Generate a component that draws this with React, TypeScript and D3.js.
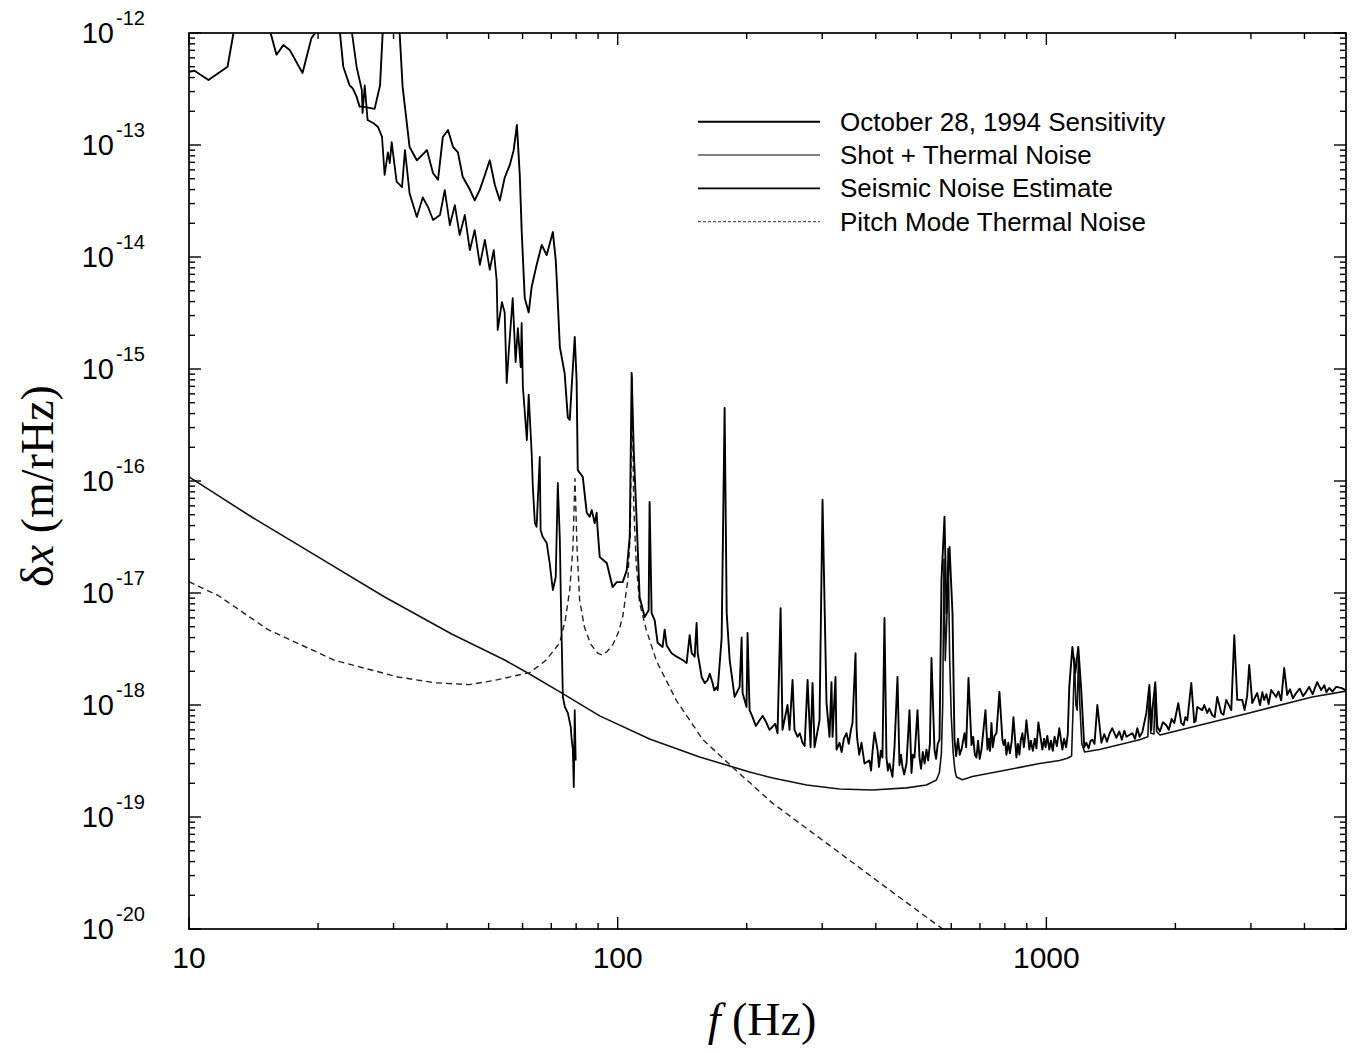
import React from "react";
import * as d3 from "d3";

const W = 1353;
const H = 1053;
const M = { left: 189, right: 1346, top: 33, bottom: 929 };

const xDomain: [number, number] = [10, 5000];
const yDomain: [number, number] = [1e-20, 1e-12];
const xTickLabels = [10, 100, 1000];
const yTickExponents = [-12, -13, -14, -15, -16, -17, -18, -19, -20];

const legendLabels = [
  "October 28, 1994 Sensitivity",
  "Shot + Thermal Noise",
  "Seismic Noise Estimate",
  "Pitch Mode Thermal Noise",
];

// [frequency Hz, displacement m/rHz]
const sensitivity: [number, number][] = [
  [10.0, 4.5e-13], [10.3, 4.6e-13], [11.1, 3.8e-13], [12.3, 5.0e-13], [12.7, 1.0e-12], [13.5, 2.5e-12],
  [14.8, 2.5e-12], [15.5, 1.0e-12], [16.0, 6.4e-13], [16.6, 7.8e-13], [17.2, 7.0e-13], [18.4, 4.4e-13],
  [19.3, 9.0e-13], [19.7, 1.0e-12], [21.0, 2.5e-12], [22.5, 1.0e-12], [22.9, 5.0e-13], [23.7, 3.4e-13],
  [24.1, 3.2e-13], [24.6, 2.7e-13], [25.0, 2.2e-13], [25.4, 2.2e-13], [27.1, 2.1e-13], [27.9, 3.4e-13],
  [28.3, 1.0e-12], [29.5, 3.0e-12], [31.0, 1.0e-12], [31.5, 3.3e-13], [32.7, 9.6e-14], [34.0, 7.3e-14],
  [35.9, 9.0e-14], [37.1, 5.6e-14], [38.1, 4.9e-14], [39.1, 1.18e-13], [40.2, 1.36e-13], [41.3, 9.6e-14],
  [42.4, 8.6e-14], [43.5, 5.2e-14], [45.2, 4.0e-14], [46.4, 3.2e-14], [47.7, 4.0e-14], [49.0, 5.4e-14],
  [50.3, 7.3e-14], [51.7, 4.4e-14], [53.1, 3.2e-14], [54.5, 5.1e-14], [56.0, 6.6e-14], [57.2, 9.0e-14],
  [58.2, 1.51e-13], [59.1, 5.4e-14], [59.7, 1.74e-14], [60.7, 4.3e-15], [62.0, 3.2e-15], [63.0, 5.4e-15],
  [64.7, 8.5e-15], [66.5, 1.28e-14], [68.3, 1.04e-14], [70.6, 1.67e-14], [71.7, 9.4e-15], [72.1, 6.2e-15],
  [73.3, 1.57e-15], [75.2, 9.2e-16], [76.5, 3.7e-16], [77.3, 3.5e-16], [78.1, 6.9e-16], [79.4, 1.93e-15],
  [80.2, 8.0e-16], [80.7, 1.25e-16], [82.9, 1.09e-16], [84.7, 5.2e-17], [86.0, 4.8e-17], [87.0, 5.5e-17],
  [88.4, 4.2e-17], [89.3, 5.2e-17], [89.8, 3.65e-17], [90.8, 2.1e-17], [94.3, 1.85e-17], [97.3, 1.13e-17],
  [99.5, 1.25e-17], [102.7, 1.25e-17], [105.0, 1.6e-17], [106.7, 3.2e-17], [107.8, 9.2e-16], [109.0, 1.89e-16],
  [110.7, 4.5e-17], [112.5, 9.2e-18], [115.6, 6.1e-18], [118.1, 7.0e-18], [118.7, 6.5e-17], [120.0, 6.6e-18],
  [122.0, 5.7e-18], [123.9, 3.6e-18], [127.3, 3.3e-18], [128.7, 4.7e-18], [130.1, 3.4e-18], [133.6, 2.9e-18],
  [137.3, 2.7e-18], [141.7, 2.52e-18], [144.8, 2.37e-18], [147.2, 4.2e-18], [148.8, 2.9e-18], [151.2, 2.7e-18],
  [152.8, 5.4e-18], [153.7, 2.9e-18], [157.0, 1.78e-18], [159.6, 1.57e-18], [162.1, 1.67e-18], [164.0, 1.9e-18],
  [166.5, 1.57e-18], [168.0, 1.35e-18], [170.2, 1.45e-18], [171.1, 1.36e-18], [174.8, 4.0e-18], [177.6, 4.5e-16],
  [179.6, 6.6e-18], [182.5, 2.52e-18], [187.4, 1.18e-18], [192.5, 1.45e-18], [194.6, 4.0e-18], [195.6, 1.28e-18],
  [199.8, 9.6e-19], [200.9, 4.4e-18], [203.1, 9.0e-19], [206.4, 7.8e-19], [210.0, 6.5e-19], [214.3, 7.3e-19],
  [218.0, 8.0e-19], [222.5, 6.9e-19], [226.0, 6.0e-19], [229.8, 6.4e-19], [233.0, 6.8e-19], [236.0, 5.6e-19],
  [239.9, 7.3e-18], [242.4, 6.0e-19], [249.0, 1.0e-18], [251.7, 6.0e-19], [255.8, 1.67e-18], [258.5, 6.0e-19],
  [262.8, 5.2e-19], [266.0, 5.6e-19], [269.9, 4.6e-19], [273.0, 4.3e-19], [277.3, 1.67e-18], [281.8, 4.2e-19],
  [284.8, 1.57e-18], [287.9, 4.2e-19], [295.7, 7.3e-19], [300.5, 6.8e-17], [307.0, 1.04e-18], [312.0, 5.2e-19],
  [315.3, 1.6e-18], [317.1, 5.2e-19], [322.2, 1.78e-18], [324.0, 4.0e-19], [329.2, 4.6e-19], [333.0, 3.8e-19],
  [337.0, 5.0e-19], [341.8, 5.6e-19], [346.0, 4.5e-19], [350.0, 6.0e-19], [353.0, 6.9e-19], [358.8, 2.9e-18],
  [360.7, 6.4e-19], [362.0, 5.0e-19], [366.0, 3.6e-19], [370.5, 4.6e-19], [376.5, 3.0e-19], [386.7, 3.2e-19],
  [390.0, 2.6e-19], [393.0, 3.8e-19], [397.2, 5.7e-19], [403.7, 4.0e-19], [407.0, 2.8e-19], [411.0, 3.9e-19],
  [414.6, 3.4e-19], [419.1, 6.0e-18], [423.6, 3.4e-19], [427.0, 2.6e-19], [430.5, 3.0e-19], [437.5, 2.28e-19],
  [442.3, 4.2e-19], [449.5, 1.78e-18], [454.3, 2.9e-19], [458.0, 3.6e-19], [461.7, 2.8e-19], [466.0, 2.4e-19],
  [471.8, 3.0e-19], [479.4, 9.0e-19], [484.6, 2.47e-19], [488.0, 3.6e-19], [492.5, 3.4e-19], [500.5, 9.0e-19],
  [505.8, 3.4e-19], [510.0, 2.7e-19], [515.0, 3.8e-19], [520.0, 3.0e-19], [525.2, 4.0e-19], [530.0, 3.2e-19],
  [535.0, 4.5e-19], [539.5, 2.63e-18], [548.3, 4.0e-19], [553.0, 3.3e-19], [558.0, 4.5e-19], [563.3, 4.9e-19],
  [569.3, 1.31e-17], [578.6, 4.8e-17], [584.9, 6.6e-18], [594.4, 2.58e-17], [604.0, 6.6e-18], [610.5, 4.9e-19],
  [616.0, 3.5e-19], [622.0, 5.0e-19], [628.0, 3.6e-19], [633.9, 4.0e-19], [644.2, 5.6e-19], [650.0, 4.2e-19],
  [658.2, 1.74e-18], [668.9, 4.4e-19], [675.0, 5.2e-19], [681.0, 3.6e-19], [687.0, 3.4e-19], [693.0, 4.8e-19],
  [699.0, 3.3e-19], [705.7, 4.0e-19], [721.0, 9.0e-19], [728.8, 4.0e-19], [734.0, 5.0e-19], [739.0, 3.9e-19],
  [744.6, 6.9e-19], [750.0, 4.2e-19], [757.0, 5.3e-19], [764.8, 5.6e-19], [777.2, 1.31e-18], [789.8, 4.9e-19],
  [795.0, 4.4e-19], [801.0, 4.9e-19], [807.0, 3.6e-19], [815.0, 4.6e-19], [822.0, 3.7e-19], [830.0, 4.7e-19],
  [837.8, 7.8e-19], [851.4, 3.4e-19], [858.0, 4.5e-19], [865.0, 3.6e-19], [872.0, 4.9e-19], [879.3, 5.6e-19],
  [886.0, 4.2e-19], [892.0, 5.2e-19], [898.3, 7.3e-19], [912.9, 4.0e-19], [920.0, 4.8e-19], [930.0, 3.9e-19],
  [940.0, 5.0e-19], [948.0, 4.1e-19], [958.1, 7.0e-19], [978.8, 4.0e-19], [988.0, 5.0e-19], [996.0, 4.2e-19],
  [1005, 5.3e-19], [1016, 4.0e-19], [1025, 4.8e-19], [1035, 3.9e-19], [1045, 5.2e-19], [1058, 4.3e-19],
  [1072, 6.2e-19], [1090, 4.0e-19], [1100, 5.0e-19], [1112, 4.2e-19], [1122, 5.5e-19], [1131, 1.45e-18],
  [1150, 3.3e-18], [1168, 1.93e-18], [1187, 3.3e-18], [1206, 1.36e-18], [1226, 4.2e-19], [1240, 4.6e-19],
  [1255, 4.1e-19], [1268, 4.8e-19], [1280, 4.9e-19], [1295, 4.5e-19], [1315, 1.0e-18], [1344, 4.6e-19],
  [1365, 5.5e-19], [1385, 4.7e-19], [1405, 5.6e-19], [1425, 6.2e-19], [1456, 5.1e-19], [1480, 5.8e-19],
  [1500, 4.9e-19], [1520, 5.9e-19], [1537, 5.2e-19], [1587, 5.6e-19], [1610, 5.0e-19], [1630, 6.2e-19],
  [1650, 5.2e-19], [1674, 5.7e-19], [1711, 8.5e-19], [1739, 1.51e-18], [1757, 6.0e-19], [1767, 9.0e-19],
  [1795, 1.6e-18], [1815, 6.4e-19], [1840, 5.8e-19], [1870, 7.0e-19], [1905, 6.6e-19], [1930, 6.0e-19],
  [1960, 7.5e-19], [1988, 6.9e-19], [2031, 1.04e-18], [2064, 6.9e-19], [2090, 6.6e-19], [2110, 7.8e-19],
  [2132, 7.3e-19], [2178, 1.57e-18], [2213, 7.0e-19], [2230, 7.2e-19], [2249, 9.6e-19], [2310, 9.0e-19],
  [2335, 1.0e-18], [2373, 8.5e-19], [2400, 9.3e-19], [2438, 8.1e-19], [2470, 7.8e-19], [2504, 1.18e-18],
  [2558, 8.5e-19], [2590, 8.2e-19], [2628, 1.11e-18], [2700, 9.0e-19], [2744, 4.2e-18], [2788, 1.11e-18],
  [2864, 1.11e-18], [2900, 9.0e-19], [2940, 1.2e-18], [2973, 2.28e-18], [3022, 1.04e-18], [3103, 1.28e-18],
  [3150, 1.0e-18], [3190, 1.3e-18], [3222, 1.11e-18], [3260, 1.25e-18], [3300, 1.02e-18], [3345, 1.36e-18],
  [3436, 1.18e-18], [3480, 1.32e-18], [3530, 1.1e-18], [3588, 2.14e-18], [3646, 1.23e-18], [3700, 1.38e-18],
  [3760, 1.15e-18], [3826, 1.28e-18], [3900, 1.4e-18], [3970, 1.2e-18], [4037, 1.31e-18], [4100, 1.45e-18],
  [4180, 1.25e-18], [4282, 1.6e-18], [4375, 1.36e-18], [4450, 1.5e-18], [4500, 1.3e-18], [4567, 1.42e-18],
  [4650, 1.32e-18], [4742, 1.45e-18], [4871, 1.42e-18], [4990, 1.36e-18],
];

const shotThermal: [number, number][] = [
  [10, 1.09e-16], [14.0, 4.77e-17], [20.0, 2.1e-17], [28.6, 9.2e-18], [41.0, 4.3e-18], [54.5, 2.52e-18],
  [61.7, 1.93e-18], [73.3, 1.31e-18], [90.8, 8.0e-19], [118.7, 4.97e-19], [155.3, 3.44e-19], [203, 2.52e-19],
  [230, 2.23e-19], [276, 1.93e-19], [329, 1.78e-19], [393, 1.74e-19], [472, 1.82e-19], [525, 1.93e-19],
  [554, 2.14e-19], [563, 2.5e-19], [569, 3.7e-19], [573, 1.0e-18], [577, 2.0e-17], [581, 2.5e-18],
  [586, 6.0e-18], [590, 2.5e-17], [595, 2.5e-18], [600, 8.0e-19], [606, 3.8e-19], [612, 2.6e-19],
  [617, 2.28e-19], [637, 2.15e-19], [672, 2.3e-19], [807, 2.63e-19], [964, 3.0e-19], [1073, 3.2e-19],
  [1120, 3.35e-19], [1145, 3.5e-19], [1155, 1.0e-18], [1163, 2.6e-18], [1172, 1.0e-18], [1180, 9.0e-19],
  [1188, 2.6e-18], [1197, 1.0e-18], [1210, 4.5e-19], [1228, 3.8e-19], [1330, 4.0e-19], [1650, 4.9e-19],
  [1725, 5.2e-19], [1739, 1.3e-18], [1752, 5.6e-19], [1782, 5.5e-19], [1795, 1.4e-18], [1808, 5.8e-19],
  [1840, 5.4e-19], [2275, 6.6e-19], [2973, 8.5e-19], [4170, 1.18e-18], [5000, 1.33e-18],
];

const seismic: [number, number][] = [
  [23.5, 2.0e-12], [24.0, 1.0e-12], [24.6, 5.0e-13], [25.3, 3.1e-13], [25.4, 1.93e-13], [25.7, 3.4e-13],
  [26.1, 1.67e-13], [26.9, 1.57e-13], [27.6, 1.45e-13], [28.2, 1.18e-13], [28.6, 5.4e-14], [29.1, 8.6e-14],
  [29.4, 6.9e-14], [29.7, 1.06e-13], [30.5, 4.7e-14], [31.4, 4.2e-14], [31.9, 9.0e-14], [32.7, 3.7e-14],
  [34.0, 2.28e-14], [35.1, 3.4e-14], [36.1, 2.8e-14], [37.1, 2.14e-14], [38.5, 2.37e-14], [39.5, 3.96e-14],
  [40.6, 1.93e-14], [41.7, 2.9e-14], [42.8, 1.57e-14], [44.0, 2.37e-14], [45.2, 1.15e-14], [46.4, 1.74e-14],
  [47.7, 8.5e-15], [49.0, 1.42e-14], [50.3, 7.7e-15], [51.4, 1.15e-14], [52.2, 6.2e-15], [52.5, 2.23e-15],
  [53.7, 3.96e-15], [54.5, 3.2e-15], [55.1, 7.5e-16], [55.7, 1.42e-15], [56.9, 4.3e-15], [57.8, 1.15e-15],
  [58.5, 2.32e-15], [59.4, 1.04e-15], [59.7, 2.58e-15], [60.1, 6.9e-16], [61.4, 2.32e-16], [62.0, 5.9e-16],
  [63.0, 1.78e-16], [63.4, 8.8e-17], [64.1, 4.2e-17], [64.7, 3.9e-17], [65.8, 1.64e-16], [66.1, 3.65e-17],
  [66.8, 3.2e-17], [68.3, 2.8e-17], [69.4, 1.85e-17], [70.6, 1.06e-17], [71.7, 1.39e-17], [72.5, 9.6e-17],
  [73.3, 3.0e-17], [73.7, 8.7e-18], [74.5, 1.18e-18], [75.3, 9.6e-19], [76.5, 8.5e-19], [77.7, 6.4e-19],
  [78.1, 4.9e-19], [78.6, 4.0e-19], [79.0, 1.85e-19], [79.4, 9.0e-19], [79.8, 3.2e-19],
];

const pitchMode: [number, number][] = [
  [10, 1.26e-17], [11.7, 9.5e-18], [15.3, 4.7e-18], [21.9, 2.5e-18], [30.7, 1.78e-18], [37.4, 1.58e-18],
  [45, 1.52e-18], [51.6, 1.66e-18], [62.4, 1.95e-18], [68, 2.5e-18], [73.3, 3.6e-18], [75.5, 5.8e-18],
  [77.3, 1.07e-17], [78.6, 2.5e-17], [79.5, 1.05e-16], [80.4, 2.5e-17], [81.5, 8.7e-18], [83.6, 5.0e-18],
  [86.5, 3.5e-18], [89.8, 2.9e-18], [92, 2.8e-18], [94.5, 3.0e-18], [97.6, 3.5e-18], [100.5, 4.5e-18],
  [102.8, 6.2e-18], [105.6, 1.3e-17], [107, 3.5e-17], [108, 8.5e-16], [109, 6.0e-17], [110.5, 1.8e-17],
  [112.5, 8.1e-18], [116.6, 4.7e-18], [123, 2.5e-18], [137, 1.1e-18], [158, 4.9e-19], [189, 2.6e-19],
  [229.7, 1.33e-19], [329, 4.8e-20], [430, 2.24e-20], [573, 1.0e-20], [620, 8.0e-21],
];

const seriesList = [sensitivity, shotThermal, seismic, pitchMode];
const seriesStyles = [
  { stroke: "#000", width: 1.9, dash: "" },
  { stroke: "#111", width: 1.6, dash: "" },
  { stroke: "#000", width: 1.8, dash: "" },
  { stroke: "#222", width: 1.4, dash: "6 4" },
];
const drawOrder = [1, 3, 2, 0];

export default function App() {
  const x = d3.scaleLog().domain(xDomain).range([M.left, M.right]);
  const y = d3.scaleLog().domain(yDomain).range([M.bottom, M.top]);
  const line = d3
    .line<[number, number]>()
    .x((d) => x(d[0]))
    .y((d) => y(d[1]));

  const isMajor = (v: number) => Math.abs(Math.log10(v) - Math.round(Math.log10(v))) < 1e-6;
  const xTicks = x.ticks();
  const yTicks = y.ticks();
  const majorLen = 12;
  const minorLen = 6;

  const sans = "'Liberation Sans', Arial, Helvetica, sans-serif";
  const serif = "'Liberation Serif', 'Times New Roman', serif";

  return (
    <svg
      width={W}
      height={H}
      style={{ position: "absolute", left: 0, top: 0, display: "block", background: "#fff" }}
    >
      <defs>
        <clipPath id="plotClip">
          <rect x={M.left} y={M.top} width={M.right - M.left} height={M.bottom - M.top} />
        </clipPath>
      </defs>
      <rect x={0} y={0} width={W} height={H} fill="#fff" />

      <g clipPath="url(#plotClip)">
        {drawOrder.map((i) => (
          <path
            key={i}
            d={line(seriesList[i]) || ""}
            fill="none"
            stroke={seriesStyles[i].stroke}
            strokeWidth={seriesStyles[i].width}
            strokeDasharray={seriesStyles[i].dash || undefined}
            strokeLinejoin="round"
          />
        ))}
      </g>

      <rect
        x={M.left}
        y={M.top}
        width={M.right - M.left}
        height={M.bottom - M.top}
        fill="none"
        stroke="#000"
        strokeWidth={1.7}
      />

      {xTicks.map((t, i) => {
        const len = isMajor(t) ? majorLen : minorLen;
        const xp = x(t);
        return (
          <g key={"xt" + i} stroke="#000" strokeWidth={1.4}>
            <line x1={xp} x2={xp} y1={M.bottom} y2={M.bottom - len} />
            <line x1={xp} x2={xp} y1={M.top} y2={M.top + len} />
          </g>
        );
      })}
      {yTicks.map((t, i) => {
        const len = isMajor(t) ? majorLen : minorLen;
        const yp = y(t);
        return (
          <g key={"yt" + i} stroke="#000" strokeWidth={1.4}>
            <line x1={M.left} x2={M.left + len} y1={yp} y2={yp} />
            <line x1={M.right} x2={M.right - len} y1={yp} y2={yp} />
          </g>
        );
      })}

      {xTickLabels.map((v) => (
        <text
          key={"xl" + v}
          x={x(v)}
          y={968}
          textAnchor="middle"
          fontFamily={sans}
          fontSize={30}
          fill="#000"
        >
          {String(v)}
        </text>
      ))}

      {yTickExponents.map((e) => {
        const yp = y(Math.pow(10, e));
        return (
          <g key={"yl" + e} fontFamily={sans} fill="#000">
            <text x={114} y={yp + 10} textAnchor="end" fontSize={29}>
              10
            </text>
            <text x={116} y={yp - 8} textAnchor="start" fontSize={20}>
              {String(e)}
            </text>
          </g>
        );
      })}

      <text x={762} y={1035} textAnchor="middle" fontFamily={serif} fontSize={46} fill="#000">
        <tspan fontStyle="italic">f</tspan>
        <tspan> (Hz)</tspan>
      </text>
      <text
        transform="translate(53,486) rotate(-90)"
        textAnchor="middle"
        fontFamily={serif}
        fontSize={46}
        fill="#000"
      >
        <tspan>δ</tspan>
        <tspan fontStyle="italic">x</tspan>
        <tspan> (m/rHz)</tspan>
      </text>

      {legendLabels.map((lab, i) => {
        const yy = 121.7 + i * 33.3;
        const st = seriesStyles[i];
        return (
          <g key={"lg" + i}>
            <line
              x1={698}
              x2={820}
              y1={yy}
              y2={yy}
              stroke={i === 1 || i === 3 ? "#555" : st.stroke}
              strokeWidth={i === 1 || i === 3 ? 1.3 : st.width}
              strokeDasharray={i === 3 ? "3 2" : undefined}
            />
            <text x={840} y={yy + 9} fontFamily={sans} fontSize={26} fill="#000">
              {lab}
            </text>
          </g>
        );
      })}
    </svg>
  );
}
